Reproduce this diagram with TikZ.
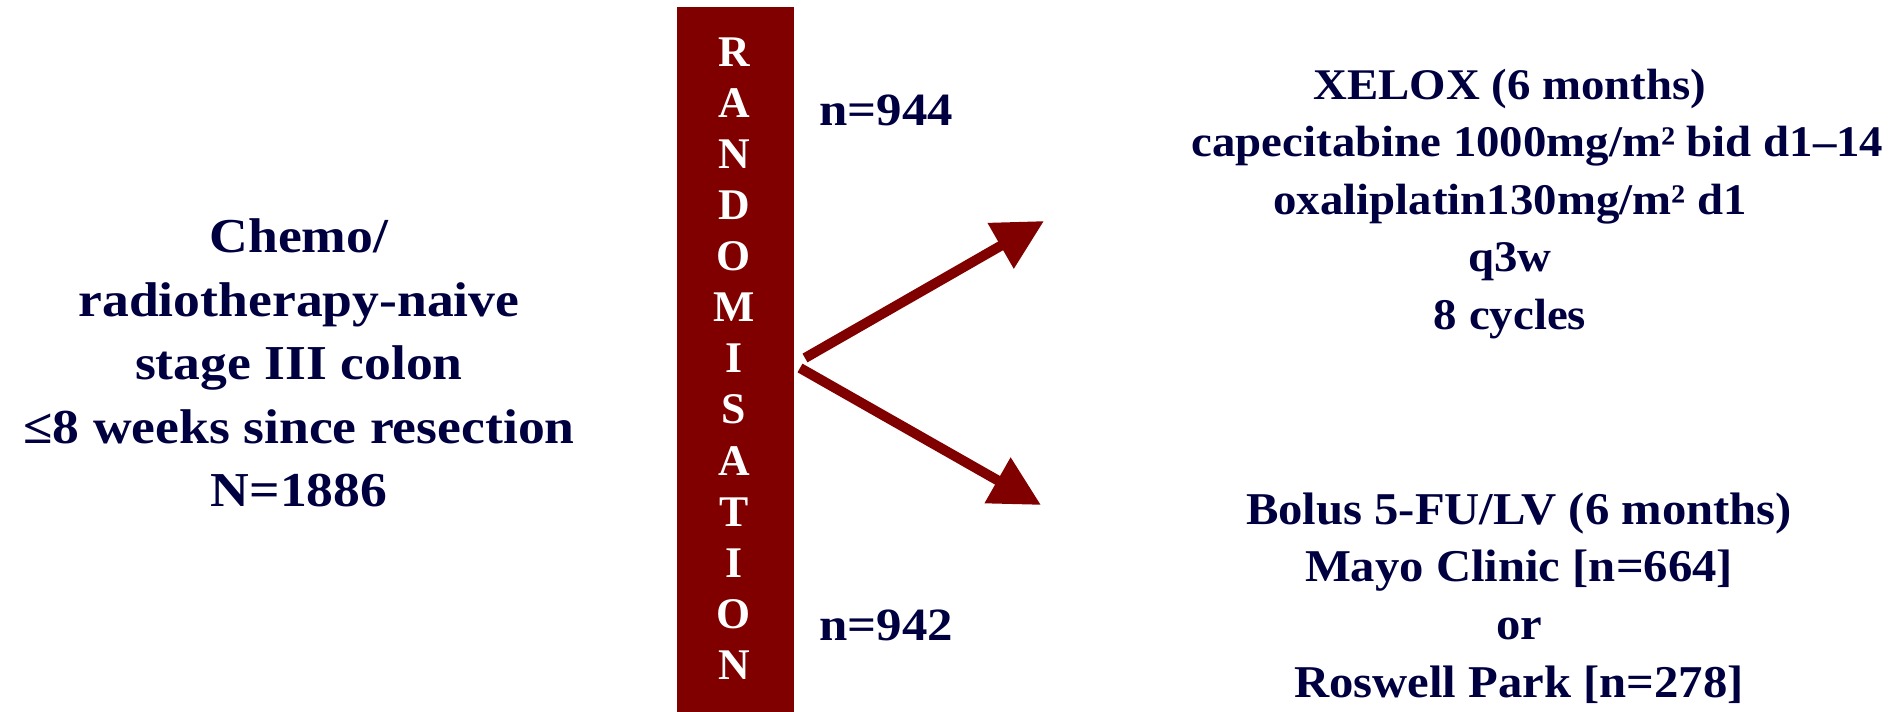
\documentclass[tikz,border=0pt]{standalone}
\usepackage{fontspec}
\setmainfont{Liberation Serif}
\newfontfamily\widefont[FakeStretch=1.1]{Liberation Serif}
\newfontfamily\armfont[FakeStretch=1.07]{Liberation Serif}
\usetikzlibrary{arrows.meta}
\definecolor{navy}{RGB}{0,0,64}
\definecolor{barred}{RGB}{128,0,0}

\begin{document}
\begin{tikzpicture}[x=0.4pt,y=-0.4pt,
  txt/.style={text=navy, align=center, inner sep=0pt,
    font=\widefont\bfseries\fontsize{19.5}{25.4}\selectfont},
  armtxt/.style={text=navy, align=center, inner sep=0pt,
    font=\armfont\bfseries\fontsize{17.5}{23}\selectfont},
  count/.style={text=navy, inner sep=0pt,
    font=\widefont\bfseries\fontsize{18.5}{20}\selectfont},
  letter/.style={text=white, inner sep=0pt,
    font=\bfseries\fontsize{17.5}{18}\selectfont},
  arm/.style={draw=barred, line width=4pt,
    -{Triangle[length=20pt,width=20pt]}}]
\useasboundingbox (0,0) rectangle (1897,712);

% randomisation bar
\node[fill=barred, inner sep=0pt, minimum width=46.8pt, minimum height=282pt,
  anchor=north west] (bar) at (676,7) {};
\foreach \l [count=\i] in {R,A,N,D,O,M,I,S,A,T,I,O,N}
  \node[letter] (L\i) at (734,{52+51.1*(\i-1)}) {\l};

% eligibility
\node[txt] (pop) at (299,363) {Chemo/\\radiotherapy-naive\\stage III colon\\%
  ≤8 weeks since resection\\N=1886};

% arm counts
\node[count, anchor=base west] (n1) at (819,126) {n=944};
\node[count, anchor=base west] (n2) at (819,640) {n=942};

% treatment arms
\node[armtxt] (xelox) at (1510,204) {XELOX (6 months)\\%
  \hspace*{22pt}capecitabine 1000mg/m² bid d1–14\\%
  oxaliplatin130mg/m² d1\\q3w\\8 cycles};
\node[armtxt, font=\armfont\bfseries\fontsize{18.2}{23}\selectfont]
  (fulv) at (1519,598) {Bolus 5-FU/LV (6 months)\\%
  Mayo Clinic [n=664]\\or\\Roswell Park [n=278]};

% arrows
\coordinate (s1) at (805,358);
\coordinate (s2) at (800,368);
\coordinate (e1) at (1044,221);
\coordinate (e2) at (1041,505);
\draw[arm] (s1) -- (e1);
\draw[arm] (s2) -- (e2);
\end{tikzpicture}
\end{document}
